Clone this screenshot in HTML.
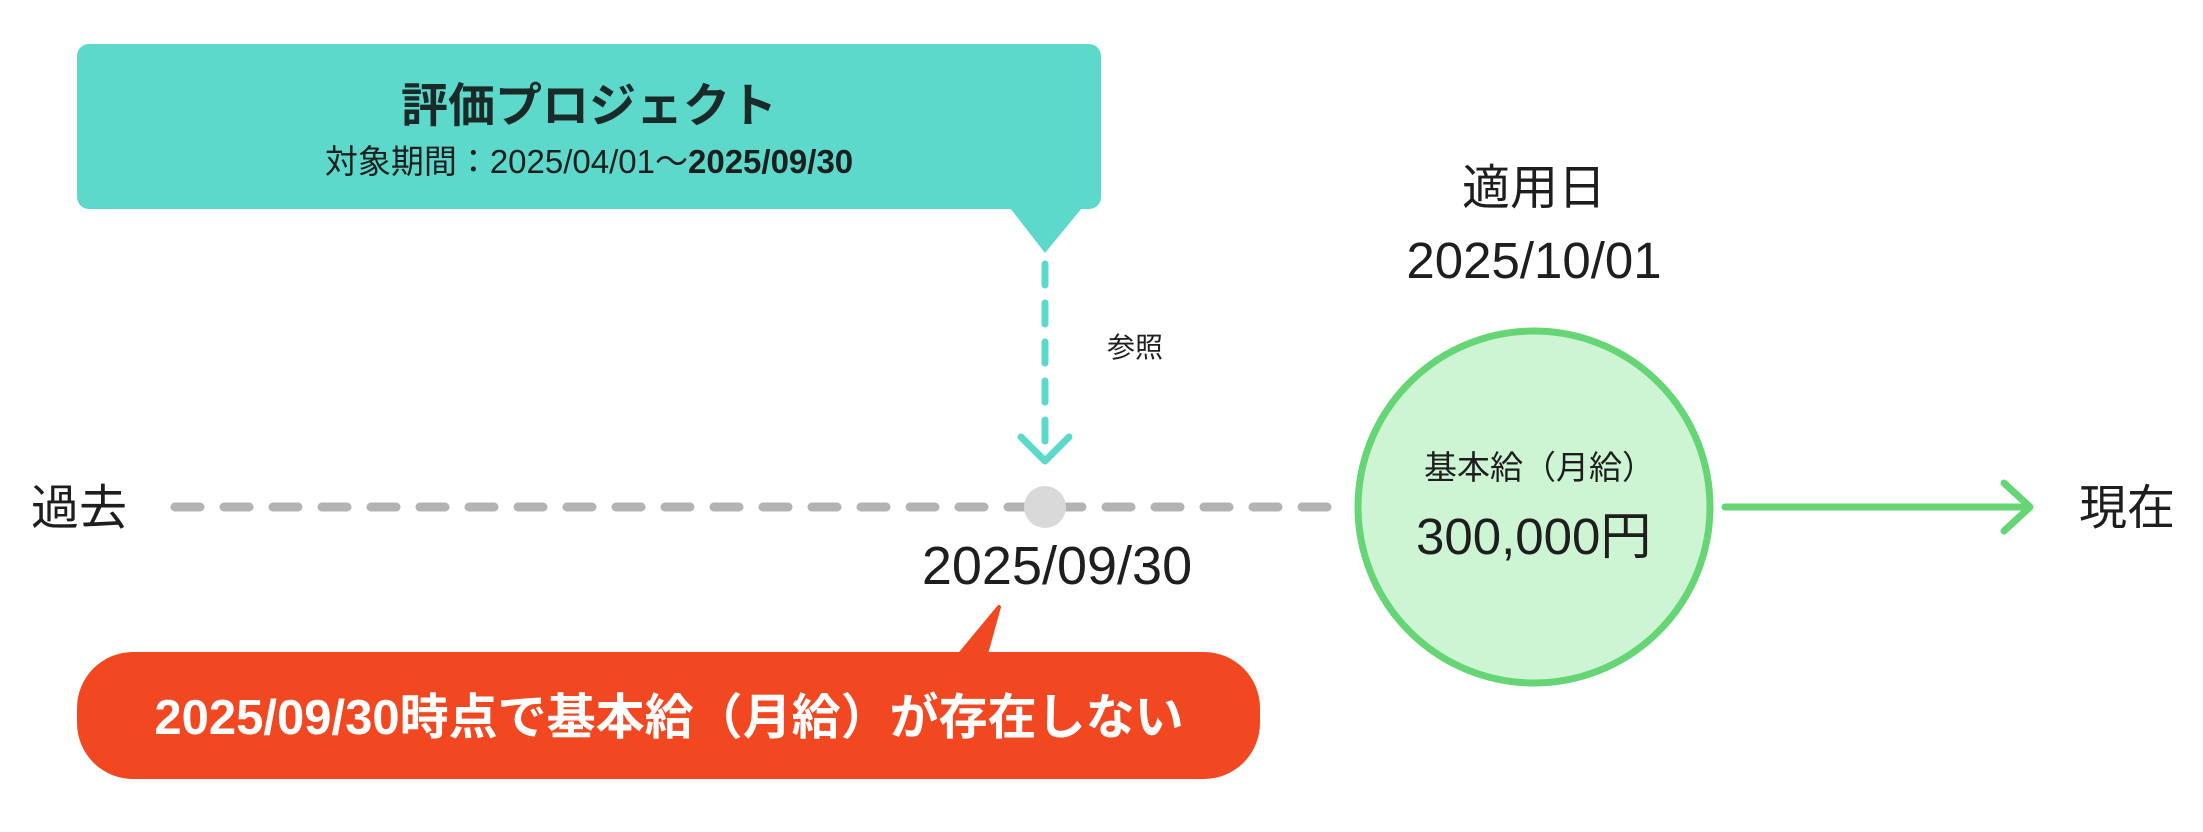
<!DOCTYPE html>
<html><head><meta charset="utf-8"><style>
html,body{margin:0;padding:0;background:#fff;}
svg text{font-family:"Liberation Sans","Noto Sans CJK JP",sans-serif;fill:#1e1e1e;}
</style></head><body>
<svg width="2203" height="827" viewBox="0 0 2203 827" xmlns="http://www.w3.org/2000/svg">
<rect x="77" y="44" width="1024" height="165" rx="12" fill="#5dd9cc"/>
<polygon points="1010,208 1082,208 1045,253" fill="#5dd9cc"/>
<text x="589" y="122" font-size="47" text-anchor="middle" font-weight="bold" style="fill:#1a2a28">評価プロジェクト</text>
<text x="589" y="173" font-size="33" text-anchor="middle">対象期間：2025/04/01〜<tspan font-weight="bold">2025/09/30</tspan></text>
<line x1="1045" y1="264" x2="1045" y2="455" stroke="#5dd9cc" stroke-width="7" stroke-dasharray="21,18" stroke-linecap="round"/>
<polyline points="1021,437 1045,461 1069,437" fill="none" stroke="#5dd9cc" stroke-width="7" stroke-linecap="round" stroke-linejoin="round"/>
<text x="1107" y="357" font-size="28">参照</text>
<line x1="175" y1="507" x2="1346" y2="507" stroke="#b3b3b3" stroke-width="9" stroke-dasharray="25,24" stroke-linecap="round"/>
<circle cx="1045" cy="507" r="21" fill="#d9d9d9"/>
<text x="31" y="524" font-size="48">過去</text>
<text x="1057" y="584" font-size="54" text-anchor="middle">2025/09/30</text>
<rect x="77" y="652" width="1183" height="127" rx="56" fill="#f24822"/>
<polygon points="960,654 999,607 986,654" fill="#f24822" stroke="#f24822" stroke-width="4" stroke-linejoin="round"/>
<text x="669" y="734" font-size="49" text-anchor="middle" font-weight="bold" style="fill:#fff">2025/09/30時点で基本給（月給）が存在しない</text>
<text x="1534" y="204" font-size="48" text-anchor="middle">適用日</text>
<text x="1534" y="278" font-size="51" text-anchor="middle">2025/10/01</text>
<circle cx="1534" cy="507" r="176" fill="#cdf5d4" stroke="#66d575" stroke-width="7"/>
<text x="1424" y="479" font-size="33">基本給（月給）</text>
<text x="1416" y="554" font-size="51">300,000円</text>
<line x1="1725" y1="507" x2="2028" y2="507" stroke="#66d575" stroke-width="7" stroke-linecap="round"/>
<polyline points="2004,483 2030,507 2004,531" fill="none" stroke="#66d575" stroke-width="7" stroke-linecap="round" stroke-linejoin="round"/>
<text x="2079" y="524" font-size="48">現在</text>
</svg>
</body></html>
